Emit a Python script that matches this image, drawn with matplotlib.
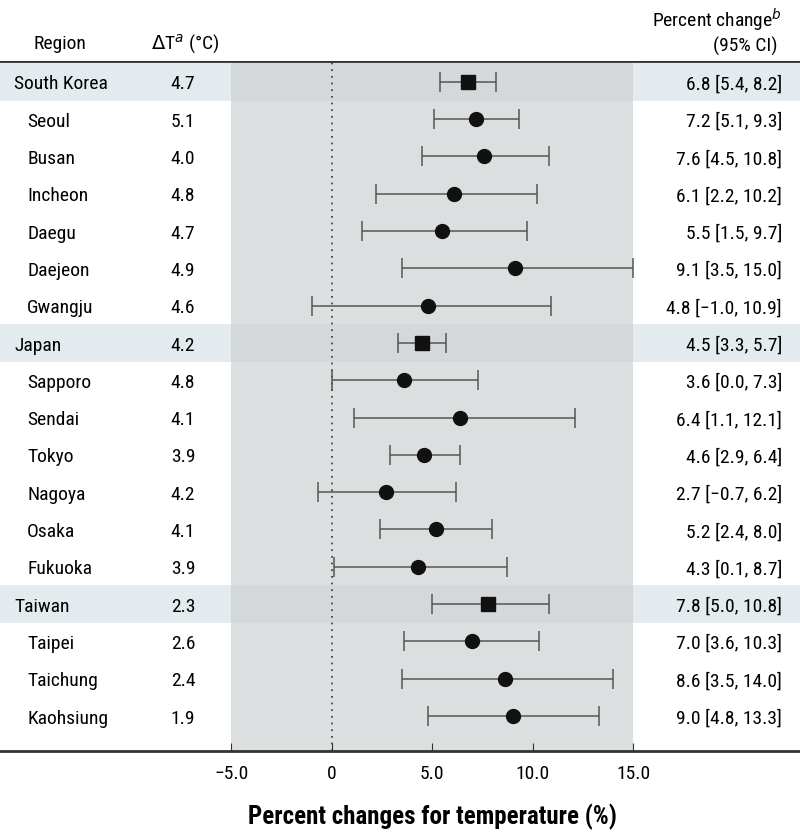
import matplotlib.pyplot as plt

# data
regions = ["South Korea", "Seoul", "Busan", "Incheon", "Daegu", "Daejeon", "Gwangju",
           "Japan", "Sapporo", "Sendai", "Tokyo", "Nagoya", "Osaka", "Fukuoka",
           "Taiwan", "Taipei", "Taichung", "Kaohsiung"]
is_country = [True, False, False, False, False, False, False,
              True, False, False, False, False, False, False,
              True, False, False, False]
delta_t = ["4.7", "5.1", "4.0", "4.8", "4.7", "4.9", "4.6",
           "4.2", "4.8", "4.1", "3.9", "4.2", "4.1", "3.9",
           "2.3", "2.6", "2.4", "1.9"]
est = [6.8, 7.2, 7.6, 6.1, 5.5, 9.1, 4.8,
       4.5, 3.6, 6.4, 4.6, 2.7, 5.2, 4.3,
       7.8, 7.0, 8.6, 9.0]
lo = [5.4, 5.1, 4.5, 2.2, 1.5, 3.5, -1.0,
      3.3, 0.0, 1.1, 2.9, -0.7, 2.4, 0.1,
      5.0, 3.6, 3.5, 4.8]
hi = [8.2, 9.3, 10.8, 10.2, 9.7, 15.0, 10.9,
      5.7, 7.3, 12.1, 6.4, 6.2, 8.0, 8.7,
      10.8, 10.3, 14.0, 13.3]
xticks = [-5, 0, 5, 10, 15]
xtick_labels = ["\u22125.0", "0", "5.0", "10.0", "15.0"]

plt.rcParams['font.family'] = ['Liberation Sans Narrow', 'Roboto Condensed',
                               'DejaVu Sans Condensed', 'Roboto', 'DejaVu Sans']

fig = plt.figure(figsize=(8, 8.32), dpi=100)
ax = fig.add_axes([0, 0.0974, 1, 0.8293])

xmin, xmax = -16.5, 23.3
n = len(regions)
ax.set_xlim(xmin, xmax)
ax.set_ylim(17.94, -0.56)

# gray panel
ax.axvspan(-5, 15, color='#dcdfe0', zorder=0, lw=0)
# country bands
for i, c in enumerate(is_country):
    if c:
        ax.axhspan(i - 0.5, i + 0.5, color='#e4ebee', zorder=0.5, lw=0)
        ax.fill_between([-5, 15], i - 0.5, i + 0.5, color='#d4d8da', zorder=0.6, lw=0)

ax.axvline(0, color='#333333', ls=(0, (1, 3)), lw=1.2, zorder=1)

fs = 14
dy = 0.07  # text sits a touch lower than row centre in the reference
for i in range(n):
    m = 's' if is_country[i] else 'o'
    ax.errorbar(est[i], i, xerr=[[est[i] - lo[i]], [hi[i] - est[i]]],
                fmt=m, color='#111111', ecolor='#555555', elinewidth=1.1,
                capsize=7, capthick=1.1, markersize=10, zorder=3)
    xt = 14 if is_country[i] else 27
    ax.text(xmin + xt / 20.1, i + dy, regions[i], ha='left', va='center', fontsize=fs)
    ax.text(xmin + 183 / 20.1, i + dy, delta_t[i], ha='center', va='center', fontsize=fs)
    ax.text(xmin + 782 / 20.1, i + dy, f"{est[i]:.1f} [{lo[i]:.1f}, {hi[i]:.1f}]".replace('-', '\u2212'),
            ha='right', va='center', fontsize=fs)

# header
ax.axhline(-0.56, color='#333333', lw=2, zorder=4)
fig.text(60 / 800, 1 - 44 / 832, "Region", ha='center', va='center', fontsize=fs)
fig.text(185 / 800, 1 - 44 / 832, "$\\Delta$T$^{a}$ (°C)", ha='center', va='center', fontsize=fs)
fig.text(782 / 800, 1 - 20 / 832, "Percent change$^{b}$", ha='right', va='center', fontsize=fs)
fig.text(745 / 800, 1 - 46 / 832, "(95% CI)", ha='center', va='center', fontsize=fs)

for s in ['top', 'left', 'right']:
    ax.spines[s].set_visible(False)
ax.spines['bottom'].set_color('#333333')
ax.spines['bottom'].set_linewidth(2)
ax.set_yticks([])
ax.set_xticks(xticks)
ax.set_xticklabels(xtick_labels, fontsize=fs)
ax.tick_params(axis='x', direction='in', length=6, color='#333333', pad=10)
fig.text(432 / 800, 1 - 817 / 832, "Percent changes for temperature (%)",
         ha='center', va='center', fontsize=18, fontweight='bold')

fig.savefig("out.png", dpi=100)
